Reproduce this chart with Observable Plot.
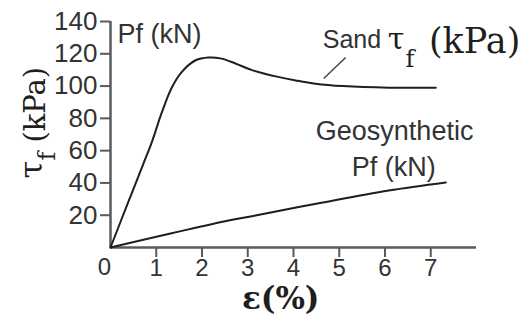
<!DOCTYPE html>
<html>
<head>
<meta charset="utf-8">
<script src="https://cdn.jsdelivr.net/npm/d3@7"></script>
<script src="https://cdn.jsdelivr.net/npm/@observablehq/plot@0.6"></script>
<style>
  html, body { margin: 0; padding: 0; background: #fff; }
</style>
</head>
<body>
<div id="chart"></div>
<script>
// Sand shear strength tau_f (kPa) vs strain (%)
const sandStrain = [0, 0.4, 0.72, 0.9, 1.12, 1.33, 1.55, 1.86, 2.14, 2.43, 2.73, 3.08, 3.39, 3.61, 4.05, 4.48, 5.08, 6.08, 7.11];
const sandTau    = [0, 29, 52, 65, 83.5, 98.5, 108.5, 116, 117.7, 117, 114, 110, 107.5, 106, 103.5, 101.5, 100, 99, 99];
// Geosynthetic pull-out force Pf (kN) vs strain (%)
const geoStrain = [0, 2.58, 3.17, 4.64, 6.08, 7.33];
const geoPf     = [0, 16.7, 19.8, 27.9, 35.3, 40.3];
// Tick labels
const xTicks = [1, 2, 3, 4, 5, 6, 7];
const yTicks = [20, 40, 60, 80, 100, 120, 140];
// Leader line from the "Sand" label to its curve
const leaderFrom = [5.14, 117.7];
const leaderTo   = [4.66, 104.7];

const sand = sandStrain.map((x, i) => ({x, y: sandTau[i]}));
const geo = geoStrain.map((x, i) => ({x, y: geoPf[i]}));

const sans = "'Liberation Sans', Arial, Helvetica, sans-serif";
const serif = "'DejaVu Serif', 'Liberation Serif', serif";
const ink = "#333";
const dark = "#1e1e1e";
const axisGray = "#5a5a5a";

const chart = Plot.plot({
  width: 523,
  height: 324,
  marginLeft: 110,
  marginRight: 47,
  marginTop: 21,
  marginBottom: 77,
  x: {domain: [0, 8]},
  y: {domain: [0, 140]},
  style: {fontFamily: sans, color: ink, background: "#fff", overflow: "visible"},
  marks: [
    Plot.axisY({ticks: yTicks, tickSize: 10, tickPadding: 3, fontSize: 26, stroke: axisGray, strokeWidth: 2, label: null, fill: ink}),
    Plot.axisX({ticks: xTicks, tickSize: 10, tickPadding: 1, fontSize: 24, stroke: axisGray, strokeWidth: 2, label: null, fill: ink}),
    Plot.text(["0"], {x: 0, frameAnchor: "bottom", dx: -6, dy: 20, fontSize: 24, fill: ink, lineAnchor: "middle"}),
    Plot.ruleY([0], {stroke: axisGray, strokeWidth: 2.5}),
    Plot.ruleX([0], {stroke: axisGray, strokeWidth: 2.5}),
    Plot.line(sand, {x: "x", y: "y", curve: "catmull-rom", stroke: dark, strokeWidth: 2}),
    Plot.line(geo, {x: "x", y: "y", curve: "catmull-rom", stroke: dark, strokeWidth: 2}),
    Plot.link([0], {x1: leaderFrom[0], y1: leaderFrom[1], x2: leaderTo[0], y2: leaderTo[1], stroke: "#444", strokeWidth: 1.5}),
    // in-plot labels
    Plot.text(["Pf (kN)"], {x: 0.153, y: 126.6, textAnchor: "start", lineAnchor: "bottom", fontSize: 27, fill: ink}),
    Plot.text(["Sand"], {x: 4.64, y: 123.3, textAnchor: "start", lineAnchor: "bottom", fontSize: 25, fill: ink}),
    Plot.text(["τ"], {x: 6.06, y: 122.7, textAnchor: "start", lineAnchor: "bottom", fontSize: 30, fontFamily: serif, fill: dark}),
    Plot.text(["f"], {x: 6.45, y: 112.1, textAnchor: "start", lineAnchor: "bottom", fontSize: 24, fontFamily: serif, fill: dark}),
    Plot.text(["(kPa)"], {x: 6.96, y: 120.2, textAnchor: "start", lineAnchor: "bottom", fontSize: 35, fontFamily: serif, fill: dark}),
    Plot.text(["Geosynthetic"], {x: 6.21, y: 66.6, textAnchor: "middle", lineAnchor: "bottom", fontSize: 27, fill: ink}),
    Plot.text(["Pf (kN)"], {x: 6.19, y: 44.6, textAnchor: "middle", lineAnchor: "bottom", fontSize: 27, fill: ink}),
    // y axis title (rotated)
    Plot.text(["τ"], {x: -1.488, y: 42.7, rotate: -90, textAnchor: "start", lineAnchor: "bottom", fontSize: 32, fontFamily: serif, fill: dark}),
    Plot.text(["f"], {x: -1.203, y: 53.9, rotate: -90, textAnchor: "start", lineAnchor: "bottom", fontSize: 24, fontFamily: serif, fill: dark}),
    Plot.text(["(kPa)"], {x: -1.422, y: 65.0, rotate: -90, textAnchor: "start", lineAnchor: "bottom", fontSize: 29, fontFamily: serif, fill: dark}),
    // x axis title
    Plot.text(["ε(%)"], {x: 3.72, y: -37.8, textAnchor: "middle", lineAnchor: "bottom", fontSize: 31, fontWeight: "bold", fontFamily: serif, fill: dark})
  ]
});
document.getElementById("chart").appendChild(chart);
</script>
</body>
</html>
